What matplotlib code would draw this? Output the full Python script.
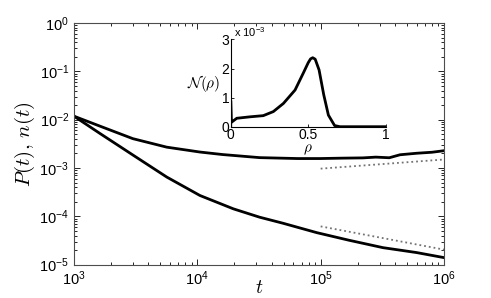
import numpy as np
import matplotlib
matplotlib.use("Agg")
import matplotlib.pyplot as plt
from matplotlib.ticker import LogLocator, NullFormatter

plt.rcParams["font.family"] = ["Liberation Sans", "DejaVu Sans"]
plt.rcParams["mathtext.fontset"] = "custom"
plt.rcParams["mathtext.rm"] = "Liberation Sans"
plt.rcParams["mathtext.it"] = "Liberation Sans:italic"

# main panel: n(t) (upper) and P(t) (lower)
t_n = [1e3, 1.72e3, 3.0e3, 5.65e3, 1.05e4, 1.6e4, 3.2e4, 6.5e4, 9.9e4,
       1.5e5, 2.2e5, 2.8e5, 3.6e5, 4.4e5, 6.0e5, 8.0e5, 1e6]
n_vals = [1.18e-2, 6.95e-3, 4.05e-3, 2.7e-3, 2.14e-3, 1.9e-3, 1.64e-3, 1.57e-3, 1.57e-3,
          1.6e-3, 1.62e-3, 1.68e-3, 1.63e-3, 1.88e-3, 2.02e-3, 2.12e-3, 2.28e-3]

t_p = [1e3, 1.63e3, 3.03e3, 5.65e3, 1.05e4, 1.96e4, 3.2e4, 4.95e4, 9.3e4, 1.7e5, 3.2e5, 6.0e5, 1e6]
p_vals = [1.18e-2, 5.15e-3, 1.83e-3, 6.5e-4, 2.7e-4, 1.43e-4, 9.6e-5, 7.2e-5, 4.6e-5,
          3.2e-5, 2.25e-5, 1.78e-5, 1.4e-5]

# dotted reference power laws
t_ref = [1e5, 1e6]
n_ref = [9.7e-4, 1.5e-3]
p_ref = [6.2e-5, 2.05e-5]

# inset: density distribution N(rho)
rho = [0.0, 0.0, 0.004, 0.039, 0.125, 0.21, 0.275, 0.34, 0.415, 0.468, 0.50, 0.515, 0.529,
       0.545, 0.57, 0.60, 0.63, 0.67, 0.705, 0.8, 1.0]
N_rho = [0.0, 0.9e-3, 0.15e-3, 0.29e-3, 0.34e-3, 0.38e-3, 0.52e-3, 0.80e-3, 1.26e-3, 1.84e-3,
         2.2e-3, 2.33e-3, 2.37e-3, 2.32e-3, 1.95e-3, 1.1e-3, 0.4e-3, 0.04e-3, 0.0, 0.0, 0.0]

fig = plt.figure(figsize=(4.91, 2.98), dpi=100)
ax = fig.add_axes([0.1507, 0.1118, 0.7536, 0.811])

ax.loglog(t_n, n_vals, color="black", lw=2)
ax.loglog(t_p, p_vals, color="black", lw=2)
ax.loglog(t_ref, n_ref, color="0.45", lw=1.3, ls=":")
ax.loglog(t_ref, p_ref, color="0.45", lw=1.3, ls=":")

ax.set_xlim(1e3, 1e6)
ax.set_ylim(1e-5, 1)
ax.xaxis.set_major_locator(LogLocator(base=10, numticks=10))
ax.yaxis.set_major_locator(LogLocator(base=10, numticks=10))
ax.xaxis.set_minor_locator(LogLocator(base=10, subs=np.arange(2, 10), numticks=20))
ax.yaxis.set_minor_locator(LogLocator(base=10, subs=np.arange(2, 10), numticks=20))
ax.xaxis.set_minor_formatter(NullFormatter())
ax.yaxis.set_minor_formatter(NullFormatter())
ax.tick_params(which="both", direction="in", top=True, right=True, labelsize=10.5, width=0.6)
ax.tick_params(which="major", length=4)
ax.tick_params(which="minor", length=2)
for s in ax.spines.values():
    s.set_linewidth(0.8)
    s.set_color("0.3")

ax.set_xlabel(r"$t$", fontsize=14, math_fontfamily="cm", labelpad=-6)
ax.set_ylabel(r"$P(t),\, n(t)$", fontsize=15, math_fontfamily="cm", labelpad=2)

ins = fig.add_axes([0.4699, 0.5748, 0.3157, 0.293])
ins.plot(rho, N_rho, color="black", lw=2)
ins.set_xlim(0, 1)
ins.set_ylim(0, 3e-3)
ins.set_xticks([0, 0.5, 1])
ins.set_xticklabels(["0", "0.5", "1"])
ins.set_yticks([0, 1e-3, 2e-3, 3e-3])
ins.set_yticklabels(["0", "1", "2", "3"])
ins.spines["top"].set_visible(False)
ins.spines["right"].set_visible(False)
ins.tick_params(direction="in", labelsize=10, length=2, width=0.6, pad=1)
ins.text(0.02, 1.01, r"x 10$^{-3}$", transform=ins.transAxes, fontsize=8, va="bottom")
ins.set_xlabel(r"$\rho$", fontsize=11, math_fontfamily="cm", labelpad=0)
ins.set_ylabel(r"$\mathcal{N}(\rho)$", fontsize=11, math_fontfamily="cm", rotation=0,
               labelpad=1, va="center", ha="right")

fig.savefig("out.png", dpi=100)
